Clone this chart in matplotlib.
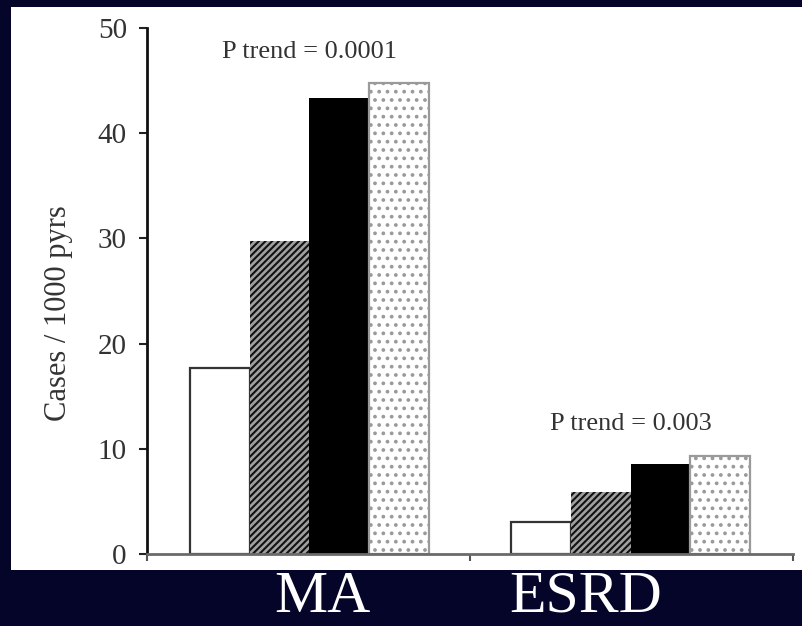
import matplotlib
matplotlib.use('Agg')
import matplotlib.pyplot as plt
from matplotlib.patches import Rectangle

plt.rcParams['font.family'] = ['Liberation Serif', 'DejaVu Serif']
plt.rcParams['hatch.linewidth'] = 1.5

# data
groups = ['MA', 'ESRD']
group_pos = [2.72, 8.10]
cat1 = [17.7, 3.0]
cat2 = [29.8, 5.9]
cat3 = [43.3, 8.6]
cat4 = [44.8, 9.3]
p_trend = ['P trend = 0.0001', 'P trend = 0.003']
p_y = [47.7, 12.4]
yticks = [0, 10, 20, 30, 40, 50]

fig = plt.figure(figsize=(8.02, 6.26), dpi=100)
fig.patch.set_facecolor('#05052a')
# white picture area behind the axes
fig.patches.append(Rectangle((11 / 802, 1 - 570 / 626), 791 / 802, 563 / 626,
                             transform=fig.transFigure, facecolor='white',
                             edgecolor='none', zorder=-5))

ax = fig.add_axes([147 / 802, 72 / 626, 646 / 802, 526 / 626])
ax.set_zorder(2)
ax.set_facecolor('none')

w = 1.0
x1 = [g - 1.5 * w for g in group_pos]
x2 = [g - 0.5 * w for g in group_pos]
x3 = [g + 0.5 * w for g in group_pos]
x4 = [g + 1.5 * w for g in group_pos]

ax.bar(x1, cat1, width=w, facecolor='white', edgecolor='#333333', linewidth=1.6, zorder=2)
ax.bar(x2, cat2, width=w, facecolor='#a0a0a0', edgecolor='#111111', hatch='/////',
       linewidth=0, zorder=2)
ax.bar(x3, cat3, width=w, facecolor='black', edgecolor='black', linewidth=0, zorder=2)
ax.bar(x4, cat4, width=w, facecolor='white', edgecolor='#9a9a9a', hatch='..',
       linewidth=1.6, zorder=2)

for gx, t, ty in zip(group_pos, p_trend, p_y):
    ax.text(gx, ty, t, ha='center', va='center', fontsize=19, color='#333333')

ax.set_xlim(0, 10.82)
ax.set_ylim(0, 50)
ax.set_yticks(yticks)
ax.set_xticks([0, 5.41, 10.82])
ax.set_xticklabels([])
ax.tick_params(axis='y', direction='out', length=6, width=1.5, pad=8.5,
               labelsize=21, labelcolor='#333333', colors='#222222')
ax.tick_params(axis='x', direction='out', length=5, width=1.5, color='#555555')
for s in ['top', 'right']:
    ax.spines[s].set_visible(False)
ax.spines['left'].set_linewidth(2)
ax.spines['left'].set_color('#111111')
ax.spines['bottom'].set_linewidth(2)
ax.spines['bottom'].set_color('#6a6a6a')

ax.set_ylabel('Cases / 1000 pyrs', fontsize=22, color='#333333')
ax.yaxis.set_label_coords(-0.115, 0.458)

fig.text(322 / 802, 1 / 626, groups[0], ha='center', va='bottom', fontsize=43, color='white')
fig.text(586 / 802, 1 / 626, groups[1], ha='center', va='bottom', fontsize=43, color='white')

fig.savefig('out.png', dpi=100, facecolor=fig.get_facecolor())
